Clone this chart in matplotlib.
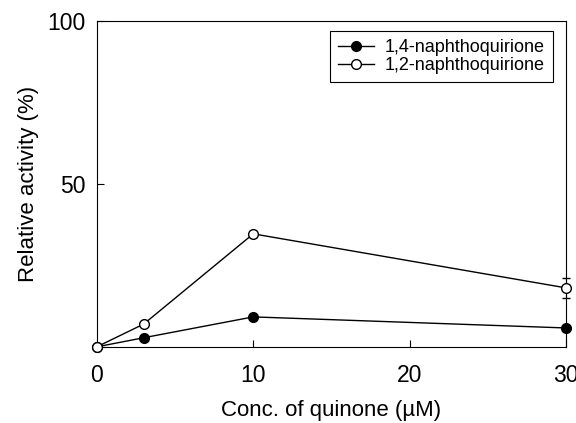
import matplotlib
matplotlib.use("Agg")
import matplotlib.pyplot as plt
from matplotlib.lines import Line2D

plt.rcParams["font.family"] = ["Liberation Sans", "DejaVu Sans"]

conc = [0, 3, 10, 30]
nq14 = [0, 2.8, 9.2, 5.8]
nq14_err = [0, 0.3, 0.6, 0.6]
nq12 = [0, 7.0, 34.7, 18.1]
nq12_err = [0, 0.4, 0.9, 3.0]
labels = ["1,4-naphthoquirione", "1,2-naphthoquirione"]

fig = plt.figure(figsize=(5.76, 4.23), dpi=100)
ax = fig.add_axes([0.168, 0.180, 0.815, 0.770])

ax.errorbar(conc, nq14, yerr=nq14_err, color="black", lw=1.0, marker="o",
            ms=7, mfc="black", mec="black", capsize=3, elinewidth=0.8,
            clip_on=False, zorder=3)
ax.errorbar(conc, nq12, yerr=nq12_err, color="black", lw=1.0, marker="o",
            ms=7, mfc="white", mec="black", capsize=3, elinewidth=0.8,
            clip_on=False, zorder=4)

ax.set_xlim(0, 30)
ax.set_ylim(0, 100)
ax.set_xticks([0, 10, 20, 30])
ax.set_yticks([0, 50, 100])
ax.set_yticklabels(["", "50", "100"])
ax.tick_params(direction="in", length=5, width=0.8, labelsize=16.5)
ax.tick_params(axis="x", pad=12)
ax.tick_params(axis="y", pad=8)
for s in ax.spines.values():
    s.set_linewidth(0.8)

ax.set_xlabel("Conc. of quinone (\u00b5M)", fontsize=16, labelpad=10)
ax.set_ylabel("Relative activity (%)", fontsize=16, labelpad=6)

handles = [
    Line2D([], [], color="black", lw=1.0, marker="o", ms=7, mfc="black", mec="black"),
    Line2D([], [], color="black", lw=1.0, marker="o", ms=7, mfc="white", mec="black"),
]
leg = ax.legend(handles, labels, loc="upper right", fontsize=13, handlelength=2.0,
                handletextpad=0.6, borderpad=0.45, labelspacing=0.05,
                fancybox=False, edgecolor="black", framealpha=1,
                bbox_to_anchor=(0.972, 0.969), borderaxespad=0)
leg.get_frame().set_linewidth(0.8)

fig.savefig("out.png", dpi=100)
